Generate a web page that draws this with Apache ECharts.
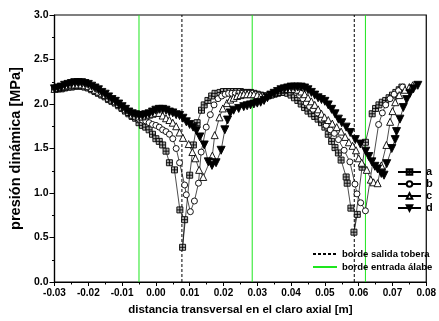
<!DOCTYPE html>
<html>
<head>
<meta charset="utf-8">
<script src="https://cdn.jsdelivr.net/npm/echarts@6/dist/echarts.min.js"></script>
<style>
  html, body { margin: 0; padding: 0; background: #fff; }
  #chart { width: 439px; height: 321px; }
</style>
</head>
<body>
<div id="chart"></div>
<script>
// measured pressure, [x (m), p (MPa)] - points in the dips are not ordered in x
const seriesA = [
  [-0.030, 2.17], [-0.029, 2.17], [-0.028, 2.17], [-0.027, 2.18], [-0.026, 2.19], [-0.025, 2.19],
  [-0.024, 2.20], [-0.023, 2.20], [-0.022, 2.20], [-0.021, 2.19], [-0.020, 2.18], [-0.019, 2.16],
  [-0.018, 2.14], [-0.017, 2.12], [-0.016, 2.10], [-0.015, 2.08], [-0.014, 2.05], [-0.013, 2.03],
  [-0.012, 2.01], [-0.011, 1.98], [-0.010, 1.95], [-0.009, 1.92], [-0.008, 1.89], [-0.007, 1.86],
  [-0.006, 1.84], [-0.005, 1.79], [-0.004, 1.76], [-0.003, 1.74], [-0.002, 1.71], [-0.001, 1.66],
  [0.000, 1.61], [0.001, 1.58], [0.002, 1.54], [0.003, 1.47], [0.004, 1.34], [0.0055, 1.26],
  [0.0071, 0.81], [0.0085, 0.70], [0.0079, 0.39], [0.0100, 1.20], [0.0111, 1.54], [0.0122, 1.79],
  [0.0135, 1.93], [0.0143, 1.99], [0.0154, 2.04], [0.0165, 2.09], [0.0175, 2.12], [0.019, 2.13],
  [0.020, 2.14], [0.021, 2.14], [0.022, 2.14], [0.023, 2.14], [0.024, 2.14], [0.025, 2.14],
  [0.026, 2.13], [0.027, 2.13], [0.028, 2.13], [0.029, 2.12], [0.030, 2.11], [0.031, 2.10],
  [0.032, 2.09], [0.033, 2.09], [0.034, 2.10], [0.035, 2.11], [0.036, 2.12], [0.037, 2.13],
  [0.038, 2.13], [0.039, 2.12], [0.040, 2.10], [0.041, 2.07], [0.042, 2.04], [0.043, 2.00],
  [0.044, 1.96], [0.045, 1.92], [0.046, 1.89], [0.047, 1.86], [0.048, 1.83], [0.049, 1.79],
  [0.050, 1.74], [0.051, 1.66], [0.052, 1.58], [0.053, 1.51], [0.054, 1.45], [0.0548, 1.37],
  [0.0563, 1.18], [0.0566, 1.11], [0.0577, 0.83], [0.0596, 0.76], [0.0586, 0.56], [0.0610, 1.29],
  [0.0620, 1.57], [0.0640, 1.89], [0.0650, 1.95], [0.0660, 1.99], [0.0670, 2.02], [0.0680, 2.04],
  [0.0690, 2.07], [0.0700, 2.10], [0.0710, 2.13], [0.0720, 2.16], [0.0728, 2.19]
];
const seriesB = [
  [-0.030, 2.17], [-0.029, 2.17], [-0.028, 2.18], [-0.027, 2.19], [-0.026, 2.20], [-0.025, 2.20],
  [-0.024, 2.21], [-0.023, 2.21], [-0.022, 2.21], [-0.021, 2.20], [-0.020, 2.19], [-0.019, 2.17],
  [-0.018, 2.15], [-0.017, 2.13], [-0.016, 2.11], [-0.015, 2.09], [-0.014, 2.06], [-0.013, 2.04],
  [-0.012, 2.02], [-0.011, 1.99], [-0.010, 1.96], [-0.009, 1.93], [-0.008, 1.90], [-0.007, 1.87],
  [-0.006, 1.85], [-0.005, 1.83], [-0.004, 1.82], [-0.003, 1.81], [-0.002, 1.79], [-0.001, 1.77],
  [0.000, 1.76], [0.001, 1.74], [0.002, 1.71], [0.003, 1.69], [0.004, 1.66], [0.005, 1.61],
  [0.006, 1.50], [0.007, 1.34], [0.0085, 1.09], [0.009, 0.98], [0.0102, 0.79], [0.0114, 0.91],
  [0.0126, 1.11], [0.0134, 1.46], [0.0149, 1.74], [0.0161, 1.88], [0.0172, 1.99], [0.0184, 2.06],
  [0.0195, 2.09], [0.0205, 2.11], [0.0215, 2.12], [0.0225, 2.12], [0.0235, 2.12], [0.0245, 2.12],
  [0.0255, 2.12], [0.0265, 2.12], [0.0275, 2.12], [0.0285, 2.12], [0.0295, 2.11], [0.0305, 2.10],
  [0.0315, 2.09], [0.0325, 2.09], [0.0335, 2.10], [0.0345, 2.11], [0.0355, 2.12], [0.0365, 2.14],
  [0.0375, 2.15], [0.0385, 2.16], [0.0395, 2.16], [0.0405, 2.15], [0.0415, 2.13], [0.0425, 2.10],
  [0.0435, 2.06], [0.0445, 2.01], [0.0455, 1.97], [0.0465, 1.94], [0.0478, 1.90], [0.049, 1.83],
  [0.0504, 1.76], [0.0516, 1.71], [0.0528, 1.67], [0.054, 1.60], [0.0557, 1.48], [0.0574, 1.35],
  [0.0589, 1.10], [0.0595, 0.99], [0.0606, 0.89], [0.062, 0.80], [0.0659, 1.77], [0.0670, 1.90],
  [0.0680, 1.99], [0.0693, 2.06], [0.0705, 2.11], [0.0718, 2.15], [0.0730, 2.19]
];
const seriesC = [
  [-0.030, 2.17], [-0.029, 2.18], [-0.028, 2.19], [-0.027, 2.20], [-0.026, 2.21], [-0.025, 2.22],
  [-0.024, 2.22], [-0.023, 2.22], [-0.022, 2.22], [-0.021, 2.21], [-0.020, 2.20], [-0.019, 2.18],
  [-0.018, 2.16], [-0.017, 2.14], [-0.016, 2.12], [-0.015, 2.10], [-0.014, 2.07], [-0.013, 2.05],
  [-0.012, 2.03], [-0.011, 2.00], [-0.010, 1.97], [-0.009, 1.94], [-0.008, 1.91], [-0.007, 1.88],
  [-0.006, 1.87], [-0.005, 1.86], [-0.004, 1.86], [-0.003, 1.87], [-0.002, 1.88], [-0.001, 1.89],
  [0.000, 1.90], [0.001, 1.90], [0.002, 1.87], [0.003, 1.84], [0.004, 1.82], [0.005, 1.79],
  [0.006, 1.75], [0.007, 1.68], [0.008, 1.62], [0.0097, 1.55], [0.0108, 1.46], [0.0117, 1.39],
  [0.0128, 1.26], [0.0140, 1.18], [0.0167, 1.42], [0.0174, 1.65], [0.0188, 1.85], [0.0198, 1.95],
  [0.0210, 2.01], [0.0220, 2.05], [0.0230, 2.07], [0.0240, 2.09], [0.0250, 2.10], [0.0260, 2.11],
  [0.0270, 2.11], [0.0280, 2.11], [0.0290, 2.11], [0.0300, 2.10], [0.0310, 2.09], [0.0320, 2.09],
  [0.0330, 2.10], [0.0340, 2.11], [0.0350, 2.13], [0.0360, 2.14], [0.0370, 2.16], [0.0380, 2.17],
  [0.0390, 2.17], [0.0400, 2.17], [0.0410, 2.17], [0.0420, 2.16], [0.0430, 2.14], [0.0440, 2.11],
  [0.0450, 2.07], [0.0460, 2.03], [0.0470, 1.99], [0.0480, 1.94], [0.0490, 1.89], [0.0499, 1.85],
  [0.0510, 1.82], [0.0522, 1.78], [0.0535, 1.74], [0.0548, 1.69], [0.0560, 1.63], [0.0571, 1.57],
  [0.0582, 1.53], [0.0592, 1.48], [0.0600, 1.39], [0.0609, 1.34], [0.0624, 1.26], [0.0636, 1.15],
  [0.0644, 1.12], [0.0656, 1.11], [0.0667, 1.31], [0.0682, 1.54], [0.0693, 1.80], [0.0700, 1.92],
  [0.0708, 2.02], [0.0720, 2.10], [0.0737, 2.16], [0.0750, 2.19], [0.0760, 2.21]
];
const seriesD = [
  [-0.030, 2.17], [-0.029, 2.18], [-0.028, 2.19], [-0.027, 2.21], [-0.026, 2.22], [-0.025, 2.23],
  [-0.024, 2.24], [-0.023, 2.24], [-0.022, 2.24], [-0.021, 2.23], [-0.020, 2.22], [-0.019, 2.20],
  [-0.018, 2.18], [-0.017, 2.16], [-0.016, 2.13], [-0.015, 2.11], [-0.014, 2.08], [-0.013, 2.05],
  [-0.012, 2.03], [-0.011, 2.00], [-0.010, 1.97], [-0.009, 1.94], [-0.008, 1.91], [-0.007, 1.89],
  [-0.006, 1.88], [-0.005, 1.87], [-0.004, 1.87], [-0.003, 1.88], [-0.002, 1.89], [-0.001, 1.91],
  [0.000, 1.93], [0.001, 1.94], [0.002, 1.94], [0.003, 1.93], [0.004, 1.91], [0.005, 1.90],
  [0.006, 1.88], [0.007, 1.87], [0.008, 1.84], [0.009, 1.80], [0.010, 1.77], [0.011, 1.74],
  [0.012, 1.70], [0.013, 1.63], [0.0143, 1.54], [0.0155, 1.35], [0.0166, 1.31], [0.0178, 1.34],
  [0.0193, 1.48], [0.0204, 1.71], [0.0212, 1.82], [0.0220, 1.90], [0.0230, 1.93], [0.0245, 1.95],
  [0.0260, 1.97], [0.0270, 1.98], [0.0280, 1.99], [0.0290, 2.00], [0.0300, 2.01], [0.0310, 2.02],
  [0.0320, 2.04], [0.0330, 2.07], [0.0340, 2.10], [0.0350, 2.12], [0.0360, 2.14], [0.0370, 2.16],
  [0.0380, 2.17], [0.0390, 2.18], [0.0400, 2.19], [0.0410, 2.19], [0.0420, 2.19], [0.0430, 2.19],
  [0.0440, 2.18], [0.0450, 2.16], [0.0460, 2.13], [0.0470, 2.10], [0.0480, 2.07], [0.0490, 2.05],
  [0.0500, 2.03], [0.0510, 1.99], [0.0520, 1.94], [0.0530, 1.89], [0.0540, 1.83], [0.0550, 1.79],
  [0.0563, 1.74], [0.0575, 1.68], [0.0590, 1.60], [0.0605, 1.55], [0.0621, 1.47], [0.0630, 1.41],
  [0.0639, 1.35], [0.0648, 1.30], [0.0656, 1.27], [0.0667, 1.22], [0.0675, 1.20], [0.0683, 1.33],
  [0.0698, 1.50], [0.0708, 1.60], [0.0712, 1.69], [0.0722, 1.83], [0.0732, 1.96], [0.0742, 2.05],
  [0.0752, 2.12], [0.0762, 2.17], [0.0775, 2.21]
];
const seriesNames = ['a', 'b', 'c', 'd'];
// vertical reference lines (m)
const nozzleEdges = [0.0077, 0.0587];
const bladeEdges = [-0.005, 0.0285, 0.062];
const nozzleName = 'borde salida tobera';
const bladeName = 'borde entrada álabe';
const xRange = [-0.03, 0.08, 0.01];
const yRange = [0, 3, 0.5];

const font = 'Liberation Sans, Arial, sans-serif';
const gridSquare = 'path://M0,0H8V8H0Z M4,0V8 M0,4H8';

const chart = echarts.init(document.getElementById('chart'), null, { renderer: 'canvas' });

const markerSeries = (name, data, symbol, size, fill, rotate) => ({
  name,
  type: 'line',
  data,
  symbol,
  symbolSize: size,
  symbolRotate: rotate || 0,
  showAllSymbol: true,
  itemStyle: { color: fill, borderColor: '#000', borderWidth: 0.9 },
  lineStyle: { color: '#000', width: 0.7 },
  emphasis: { disabled: true },
  animation: false
});

// one line series per vertical edge, same name so the legend shows it once
const edgeSeries = (name, x, color, type) => ({
  name,
  type: 'line',
  data: [[x, yRange[0]], [x, yRange[1]]],
  symbol: 'none',
  itemStyle: { color },
  lineStyle: { color, width: 1, type },
  emphasis: { disabled: true },
  silent: true,
  z: 1,
  animation: false
});

chart.setOption({
  backgroundColor: '#fff',
  grid: { left: 51, right: 10, top: 15, bottom: 39, show: true, borderColor: '#000', borderWidth: 1.2 },
  xAxis: {
    type: 'value',
    min: xRange[0], max: xRange[1], interval: xRange[2],
    name: 'distancia transversal en el claro axial [m]',
    nameLocation: 'middle', nameGap: 22,
    nameTextStyle: { fontFamily: font, fontWeight: 'bold', fontSize: 11.5, color: '#000' },
    axisLine: { onZero: false, lineStyle: { color: '#000', width: 1.2 } },
    axisTick: { length: 4, lineStyle: { color: '#000' } },
    minorTick: { show: true, splitNumber: 2, length: 2.5, lineStyle: { color: '#000' } },
    splitLine: { show: false },
    axisLabel: {
      fontFamily: font, fontWeight: 'bold', fontSize: 10, color: '#000', margin: 6,
      formatter: v => (Math.abs(v) < 1e-9 ? 0 : v).toFixed(2)
    }
  },
  yAxis: {
    type: 'value',
    min: yRange[0], max: yRange[1], interval: yRange[2],
    name: 'presión dinámica [MPa]',
    nameLocation: 'middle', nameGap: 30,
    nameTextStyle: { fontFamily: font, fontWeight: 'bold', fontSize: 14.5, color: '#000' },
    axisLine: { onZero: false, lineStyle: { color: '#000', width: 1.2 } },
    axisTick: { length: 5, lineStyle: { color: '#000' } },
    minorTick: { show: true, splitNumber: 2, length: 2.5, lineStyle: { color: '#000' } },
    splitLine: { show: false },
    axisLabel: {
      fontFamily: font, fontWeight: 'bold', fontSize: 10.5, color: '#000', margin: 6,
      formatter: v => v.toFixed(1)
    }
  },
  legend: [
    {
      data: seriesNames,
      orient: 'vertical', left: 392, top: 161,
      itemWidth: 23, itemHeight: 7, itemGap: 0,
      textStyle: { fontFamily: font, fontWeight: 'bold', fontSize: 11, color: '#000', lineHeight: 12 }
    },
    {
      data: [nozzleName, bladeName],
      orient: 'vertical', left: 307, top: 243,
      itemWidth: 24, itemHeight: 8, itemGap: 1,
      itemStyle: { opacity: 0 },
      textStyle: { fontFamily: font, fontWeight: 'bold', fontSize: 9.5, color: '#000', lineHeight: 12 }
    }
  ],
  series: [
    ...nozzleEdges.map(x => edgeSeries(nozzleName, x, '#000', [3, 2])),
    ...bladeEdges.map(x => edgeSeries(bladeName, x, '#1ee61e', 'solid')),
    markerSeries('a', seriesA, gridSquare, 6, '#b0b0b0'),
    markerSeries('b', seriesB, 'circle', 6, '#fff'),
    markerSeries('c', seriesC, 'triangle', 7, '#fff'),
    markerSeries('d', seriesD, 'triangle', 8, '#000', 180)
  ]
});
</script>
</body>
</html>
